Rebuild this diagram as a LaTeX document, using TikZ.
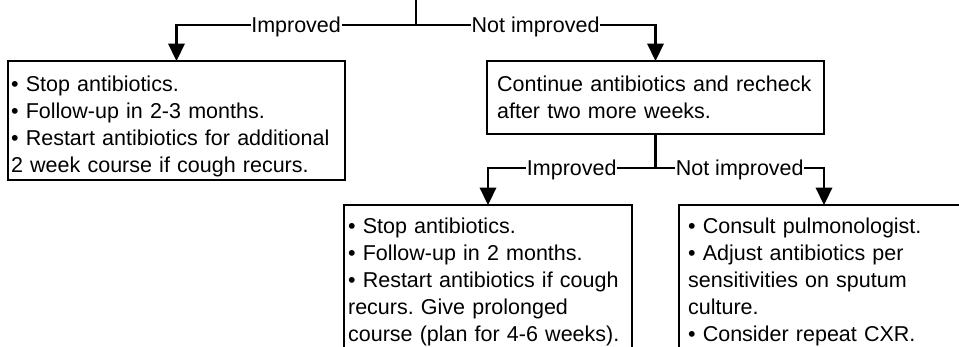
\documentclass[tikz,border=0pt]{standalone}
\usepackage{fontspec}
\setmainfont{Liberation Sans}
\usetikzlibrary{arrows.meta}
\frenchspacing

\begin{document}
\begin{tikzpicture}[x=1pt, y=-1pt,
  line width=2.2pt,
  box/.style={draw, rectangle, anchor=north west, inner sep=0pt, outer sep=0pt},
  body/.style={anchor=base west, inner sep=0pt, text width=340pt, align=left,
    font=\fontsize{21.5}{27}\selectfont},
  branch/.style={-{Triangle[length=17.5pt, width=16.5pt]}},
  lbl/.style={fill=white, inner xsep=0.6pt, inner ysep=0pt, text height=15.4pt,
    text depth=0pt, font=\fontsize{21.5}{26}\selectfont}]

\useasboundingbox (0,0) rectangle (959,346);

% outcome boxes
\node[box, minimum width=337pt, minimum height=119pt] (stop1) at (8,61) {};
\node[box, minimum width=337pt, minimum height=73pt] (cont) at (487,61) {};
\node[box, minimum width=288pt, minimum height=160pt] (stop2) at (344,205) {};
\node[box, minimum width=290pt, minimum height=160pt] (refer) at (679,205) {};

% box texts
\node[body] (stop1txt) at (10,91.5) {• Stop antibiotics.\\
• Follow-up in 2-3 months.\\
• Restart antibiotics for additional\\
2 week course if cough recurs.};
\node[body] (conttxt) at (496,91) {Continue antibiotics and recheck\\
after two more weeks.};
\node[body] (stop2txt) at (347,233) {• Stop antibiotics.\\
• Follow-up in 2 months.\\
• Restart antibiotics if cough\\
recurs. Give prolonged\\
course (plan for 4-6 weeks).};
\node[body] (refertxt) at (687,233) {• Consult pulmonologist.\\
• Adjust antibiotics per\\
sensitivities on sputum\\
culture.\\
• Consider repeat CXR.};

% first decision
\coordinate (entry) at (415.7,0);
\coordinate (split1) at (415.7,25);
\draw (entry) -- (split1);
\draw[branch] (split1) -| node[lbl, pos=0.25] (imp1) {Improved} (stop1.north);
\draw[branch] (split1) -| node[lbl, pos=0.25] (nimp1) {Not improved} (cont.north);

% second decision
\coordinate (split2) at (655.5,168);
\draw (cont.south) -- (split2);
\draw[branch] (split2) -| node[lbl, pos=0.25] (imp2) {Improved} (stop2.north);
\draw[branch] (split2) -| node[lbl, pos=0.25] (nimp2) {Not improved} (refer.north);
\end{tikzpicture}
\end{document}
